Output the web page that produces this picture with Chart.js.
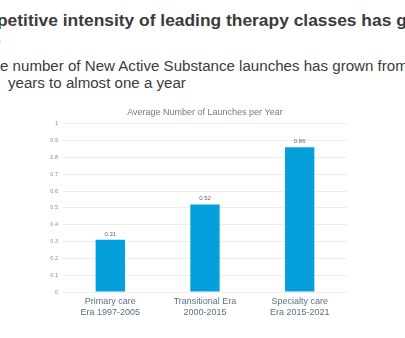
<!DOCTYPE html>
<html>
<head>
<meta charset="utf-8">
<script src="https://cdn.jsdelivr.net/npm/chart.js@4.4.1/dist/chart.umd.min.js"></script>
<style>
  html, body { margin: 0; padding: 0; background: #ffffff; }
  body { width: 405px; height: 338px; overflow: hidden; position: relative; font-family: "Liberation Sans", Arial, sans-serif; }
  .t { position: absolute; white-space: nowrap; color: #3b3b3b; }
  .h1 { font-weight: bold; font-size: 17.4px; line-height: 20px; }
  .h2 { font-size: 15.1px; line-height: 18px; }
  #wrap { position: absolute; left: 0; top: 0; width: 405px; height: 338px; }
</style>
</head>
<body>
<div class="t h1" style="left:-3px; top:10px;">petitive intensity of leading therapy classes has grown</div>
<div class="t h1" style="left:-35px; top:29.5px;">time</div>
<div class="t h2" style="left:0px; top:57px;">e number of New Active Substance launches has grown from</div>
<div class="t h2" style="left:8px; top:74px;">years to almost one a year</div>
<div id="wrap"><canvas id="c" width="405" height="338"></canvas></div>
<script>
const categories = [["Primary care", "Era 1997-2005"], ["Transitional Era", "2000-2015"], ["Specialty care", "Era 2015-2021"]];
const launchesPerYear = [0.31, 0.52, 0.86];
const yTicks = [0, 0.1, 0.2, 0.3, 0.4, 0.5, 0.6, 0.7, 0.8, 0.9, 1];
const chartTitle = "Average Number of Launches per Year";

const valueLabels = {
  id: "valueLabels",
  afterDatasetsDraw(chart) {
    const ctx = chart.ctx;
    const meta = chart.getDatasetMeta(0);
    ctx.save();
    ctx.font = "6px 'Liberation Sans', Arial, sans-serif";
    ctx.fillStyle = "#6a6a6a";
    ctx.textAlign = "center";
    ctx.textBaseline = "bottom";
    meta.data.forEach((bar, i) => {
      ctx.fillText(launchesPerYear[i].toFixed(2), bar.x, bar.y - 3);
    });
    ctx.restore();
  }
};

new Chart(document.getElementById("c"), {
  type: "bar",
  data: {
    labels: categories,
    datasets: [{
      data: launchesPerYear,
      backgroundColor: "#05a0db",
      barPercentage: 0.62,
      categoryPercentage: 0.5
    }]
  },
  options: {
    responsive: false,
    animation: false,
    layout: { padding: { left: 0, right: 58, top: 100, bottom: 0 } },
    plugins: {
      legend: { display: false },
      tooltip: { enabled: false },
      title: {
        display: true,
        fullSize: false,
        text: chartTitle,
        color: "#6b7d8f",
        font: { family: "'Liberation Sans', Arial, sans-serif", size: 9, weight: "normal" },
        padding: { top: 7, bottom: 6 }
      }
    },
    scales: {
      x: {
        grid: { display: false, drawTicks: false },
        border: { display: false },
        ticks: {
          color: "#5b7083",
          padding: 4,
          font: { family: "'Liberation Sans', Arial, sans-serif", size: 9, lineHeight: 1.2 }
        },
        afterFit(s) { s.height = 46; }
      },
      y: {
        min: 0,
        max: 1,
        afterBuildTicks(s) { s.ticks = yTicks.map(v => ({ value: v })); },
        grid: { color: "#ececec", drawTicks: false, lineWidth: 1 },
        border: { display: false },
        ticks: {
          color: "#8c8c8c",
          padding: 5,
          font: { family: "'Liberation Sans', Arial, sans-serif", size: 5.5 },
          callback: (v) => String(Math.round(v * 10) / 10)
        },
        afterFit(s) { s.width = 63; }
      }
    }
  },
  plugins: [valueLabels]
});
</script>
</body>
</html>
